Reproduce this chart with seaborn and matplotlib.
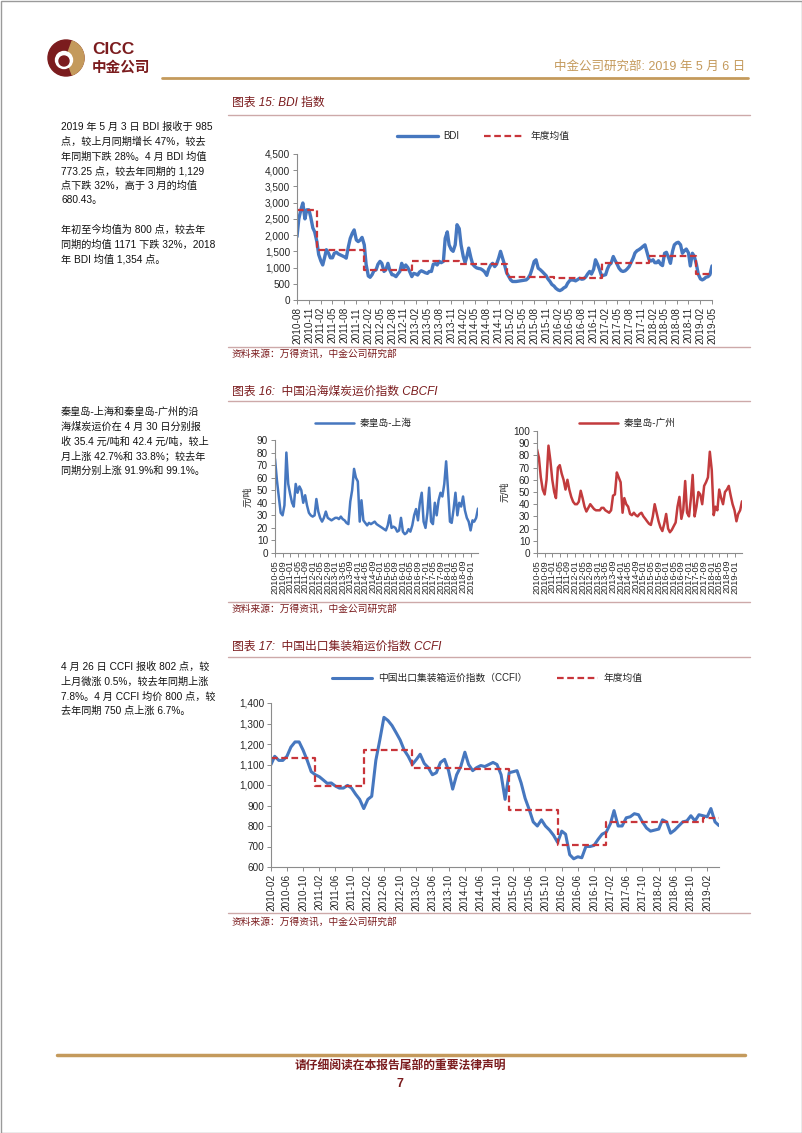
import pandas as pd
import matplotlib
matplotlib.use('Agg')
import matplotlib.pyplot as plt
import matplotlib.dates as mdates
from matplotlib.ticker import FuncFormatter, MultipleLocator
from matplotlib.patches import Circle, Wedge, Rectangle
import seaborn as sns

W, H = 802, 1133

# ---------------- data ----------------
# BDI, semi-monthly readings (1st / 15th), 2010-08-01 .. 2019-05-01
bdi_values = [
    1950, 2500, 2800, 2990, 2500, 2780, 2780, 2550, 2220, 2100,
    1800, 1400, 1200, 1080, 1300, 1550, 1440, 1300, 1300, 1440, 1470, 1420,
    1390, 1360, 1330, 1290, 1650, 1900, 2060, 2160, 1850, 1800, 1850, 1930,
    1700, 1100, 740, 700, 780, 900, 930, 1100, 1190, 1130, 880, 930,
    1130, 930, 780, 770, 720, 800, 880, 1130, 980, 1080, 1000, 880,
    720, 820, 800, 770, 860, 900, 870, 840, 820, 880, 880, 1100,
    1120, 1080, 1190, 1150, 1190, 1900, 2100, 1700, 1550, 1500, 1700, 2320,
    2200, 1700, 1340, 1150, 1340, 1600, 1300, 1100, 1030, 990, 970, 960,
    920, 870, 760, 950, 1080, 1130, 1030, 1100, 1300, 1500, 1290, 1100,
    840, 740, 620, 570, 570, 570, 580, 590, 600, 610, 620, 670,
    780, 950, 1190, 1240, 980, 940, 880, 820, 750, 650, 570, 480,
    430, 360, 310, 290, 320, 370, 410, 520, 600, 620, 610, 590,
    630, 670, 640, 650, 710, 800, 880, 800, 950, 1240, 1100, 950,
    740, 760, 780, 960, 1080, 1130, 1340, 1220, 1100, 980, 900, 880,
    900, 950, 1030, 1150, 1290, 1450, 1520, 1550, 1600, 1650, 1700, 1500,
    1250, 1200, 1240, 1150, 1150, 1210, 1100, 1060, 1440, 1470, 1300, 1130,
    1500, 1700, 1760, 1780, 1700, 1440, 1520, 1570, 1450, 1050, 1440, 1350,
    1100, 800, 650, 620, 650, 700, 720, 780, 1050,
]
bdi_dates = pd.date_range('2010-08-01', '2019-05-01', freq='SMS')
bdi_year_start = ['2010-08-01', '2011-01-01', '2012-01-01', '2013-01-01', '2014-01-01',
                  '2015-01-01', '2016-01-01', '2017-01-01', '2018-01-01', '2019-01-01',
                  '2019-05-01']
bdi_year_avg = [2760, 1550, 925, 1210, 1105, 718, 673, 1150, 1355, 790]
bdi_ticks = pd.date_range('2010-08-01', '2019-05-01', freq='3MS')

# CBCFI coal freight, monthly, 2010-05 .. 2019-05 (元/吨)
coal_dates = pd.date_range('2010-05-01', '2019-05-01', freq='MS')
qhd_shanghai = [
    75, 58, 45, 32, 30, 38, 80, 55,
    47, 40, 37, 55, 48, 53, 50, 40, 46, 38, 32, 30,
    29, 30, 43, 33, 28, 25, 28, 33, 28, 27, 26, 27,
    28, 28, 27, 29, 27, 26, 24, 23, 41, 50, 67, 60,
    57, 25, 42, 26, 24, 22, 24, 23, 24, 25, 23, 22,
    21, 20, 19, 18, 22, 30, 20, 21, 20, 17, 18, 28,
    17, 15, 16, 19, 17, 22, 30, 35, 26, 40, 48, 25,
    20, 32, 52, 25, 23, 40, 30, 42, 48, 45, 55, 73,
    50, 25, 24, 35, 48, 30, 40, 37, 45, 34, 28, 25,
    18, 26, 25, 28, 35.4,
]
qhd_guangzhou = [
    85, 78, 62, 52, 48, 60, 88, 76,
    60, 50, 45, 70, 72, 65, 60, 52, 60, 52, 46, 42,
    40, 40, 42, 51, 45, 38, 34, 37, 40, 38, 36, 35,
    35, 35, 37, 37, 35, 34, 33, 35, 47, 48, 66, 62,
    58, 33, 45, 40, 38, 32, 31, 33, 31, 30, 32, 33,
    30, 28, 26, 24, 23, 30, 40, 33, 26, 21, 18, 24,
    32, 20, 17, 19, 22, 25, 38, 46, 28, 35, 59, 33,
    30, 45, 64, 30, 38, 50, 48, 40, 55, 58, 62, 83,
    68, 31, 38, 35, 52, 45, 40, 50, 52, 55, 47, 40,
    35, 26, 32, 35, 42.4,
]
coal_ticks = pd.date_range('2010-05-01', '2019-01-01', freq='4MS')

# CCFI, monthly, 2010-02 .. 2019-05
ccfi_dates = pd.date_range('2010-02-01', '2019-05-01', freq='MS')
ccfi_values = [
    1100, 1140, 1120, 1120, 1140, 1185, 1210, 1210, 1170, 1120, 1065,
    1050, 1040, 1025, 1008, 1010, 995, 985, 985, 998, 985, 955, 930,
    885, 930, 945, 1120, 1220, 1330, 1315, 1290, 1255, 1220, 1170, 1140,
    1100, 1125, 1150, 1105, 1085, 1050, 1060, 1110, 1125, 1070, 980, 1050,
    1090, 1160, 1100, 1070, 1085, 1095, 1090, 1100, 1110, 1100, 1050, 930,
    1060, 1065, 1070, 1010, 935, 880, 820, 800, 830, 800, 780, 755,
    720, 775, 760, 660, 640, 650, 645, 700, 700, 705, 735, 760,
    770, 810, 875, 800, 800, 840, 845, 860, 855, 820, 790, 775,
    780, 785, 830, 820, 765, 780, 800, 820, 825, 850, 825, 855,
    850, 845, 885, 820, 802,
]
ccfi_year_start = ['2010-02-01', '2011-01-01', '2012-01-01', '2013-01-01', '2014-01-01',
                   '2015-01-01', '2016-01-01', '2017-01-01', '2018-01-01', '2019-01-01',
                   '2019-05-01']
ccfi_year_avg = [1133, 993, 1172, 1083, 1078, 877, 709, 820, 818, 838]
ccfi_ticks = pd.date_range('2010-02-01', '2019-02-01', freq='4MS')

# side notes
note_bdi = [
    '2019 年 5 月 3 日 BDI 报收于 985',
    '点，较上月同期增长 47%，较去',
    '年同期下跌 28%。4 月 BDI 均值',
    '773.25 点，较去年同期的 1,129',
    '点下跌 32%，高于 3 月的均值',
    '680.43。',
]
note_bdi_2 = [
    '年初至今均值为 800 点，较去年',
    '同期的均值 1171 下跌 32%，2018',
    '年 BDI 均值 1,354 点。',
]
note_coal = [
    '秦皇岛-上海和秦皇岛-广州的沿',
    '海煤炭运价在 4 月 30 日分别报',
    '收 35.4 元/吨和 42.4 元/吨，较上',
    '月上涨 42.7%和 33.8%；较去年',
    '同期分别上涨 91.9%和 99.1%。',
]
note_ccfi = [
    '4 月 26 日 CCFI 报收 802 点，较',
    '上月微涨 0.5%，较去年同期上涨',
    '7.8%。4 月 CCFI 均价 800 点，较',
    '去年同期 750 点上涨 6.7%。',
]

# ---------------- style ----------------
sns.set_theme(style='white')
plt.rcParams['font.family'] = ['Liberation Sans', 'Noto Sans CJK SC', 'DejaVu Sans']
plt.rcParams['axes.unicode_minus'] = False

BLUE = '#4677BF'
RED_DASH = '#C8353A'
RED_LINE = '#C23B3D'
MAROON = '#7B1C1E'
GOLD = '#C49A5C'
RULE = '#CDA9A9'
AXIS_GREY = '#8C8C8C'
SOURCE = '资料来源：万得资讯，中金公司研究部'

fig = plt.figure(figsize=(W / 100, H / 100), dpi=100)
bg = fig.add_axes([0, 0, 1, 1])
bg.set_xlim(0, W)
bg.set_ylim(H, 0)
bg.set_axis_off()


def rect(left, top, right, bottom):
    return [left / W, 1 - bottom / H, (right - left) / W, (bottom - top) / H]


def style_axes(ax, labelsize=7.2):
    sns.despine(ax=ax)
    for s in ('left', 'bottom'):
        ax.spines[s].set_color(AXIS_GREY)
        ax.spines[s].set_linewidth(0.8)
    ax.tick_params(axis='both', length=3, width=0.7, color=AXIS_GREY,
                   labelsize=labelsize, pad=2, bottom=True, left=True)
    ax.tick_params(axis='x', labelrotation=90)
    ax.set_xlabel('')
    ax.set_ylabel('')
    ax.grid(False)


def legend_at(ax, x, y, **kw):
    ax.legend(loc='center', bbox_to_anchor=(x / W, 1 - y / H), bbox_transform=fig.transFigure,
              frameon=False, fontsize=7, handletextpad=0.6, **kw)


def section(title, title_y, rule_y, src_rule_y, src_y):
    bg.text(232, title_y, title, color=MAROON, fontsize=8.5, style='italic', va='center')
    bg.plot([228, 750], [rule_y, rule_y], color=RULE, lw=1)
    bg.plot([228, 750], [src_rule_y, src_rule_y], color=RULE, lw=1)
    bg.text(232, src_y, SOURCE, color=MAROON, fontsize=7, style='italic', va='center')


def notes(lines, y0, step=14.7):
    for i, line in enumerate(lines):
        bg.text(61, y0 + i * step, line, fontsize=7.3, color='#111111', va='center')


comma = FuncFormatter(lambda v, p: f'{v:,.0f}')

# ---------------- page furniture ----------------
bg.add_patch(Rectangle((0.5, 0.5), W - 1, H - 1, fill=False, ec='#9A9A9A', lw=1))
bg.add_patch(Circle((66, 58), 18, color=MAROON))
bg.add_patch(Wedge((66, 58), 18, -70, 70, color=GOLD))
bg.add_patch(Circle((64, 60), 8.5, color='white'))
bg.add_patch(Circle((64, 61), 5, color=MAROON))
bg.text(92, 50, 'CICC', fontsize=12.5, fontweight='bold', color=MAROON, va='center')
bg.text(92, 68, '中金公司', fontsize=10.5, fontweight='bold', color=MAROON, va='center')
bg.text(745, 67, '中金公司研究部: 2019 年 5 月 6 日', fontsize=9, color=GOLD,
        ha='right', va='center')
bg.plot([162, 748], [78, 78], color=GOLD, lw=2)

bg.plot([57, 745], [1055, 1055], color=GOLD, lw=2.5)
bg.text(400, 1067, '请仔细阅读在本报告尾部的重要法律声明', fontsize=8.5, color=MAROON,
        fontweight='bold', style='italic', ha='center', va='center')
bg.text(400, 1084, '7', fontsize=9, color=MAROON, fontweight='bold', ha='center', va='center')

notes(note_bdi, 127)
notes(note_bdi_2, 230)
notes(note_coal, 412)
notes(note_ccfi, 667)

# ---------------- 图表 15: BDI ----------------
section('图表 15: BDI 指数', 103, 115, 347, 354)
ax = fig.add_axes(rect(297, 154, 712, 300))
sns.lineplot(x=bdi_dates, y=bdi_values, ax=ax, color=BLUE, lw=2.4, label='BDI')
sns.lineplot(x=pd.to_datetime(bdi_year_start), y=bdi_year_avg + bdi_year_avg[-1:], ax=ax,
             color=RED_DASH, lw=1.6, linestyle=(0, (3, 1.6)), drawstyle='steps-post',
             label='年度均值')
style_axes(ax)
ax.set_ylim(0, 4500)
ax.yaxis.set_major_locator(MultipleLocator(500))
ax.yaxis.set_major_formatter(comma)
ax.set_xlim(bdi_dates[0], bdi_dates[-1])
ax.set_xticks(bdi_ticks)
ax.xaxis.set_major_formatter(mdates.DateFormatter('%Y-%m'))
legend_at(ax, 483, 136, ncol=2, handlelength=4.2, columnspacing=2.5)

# ---------------- 图表 16: CBCFI ----------------
section('图表 16:  中国沿海煤炭运价指数 CBCFI', 392, 401, 602, 609)
for (l, t, r, b), vals, color, name, ymax, lx in [
        ((275, 440, 478, 553), qhd_shanghai, BLUE, '秦皇岛-上海', 90, 363),
        ((537, 431, 742, 553), qhd_guangzhou, RED_LINE, '秦皇岛-广州', 100, 627)]:
    ax = fig.add_axes(rect(l, t, r, b))
    sns.lineplot(x=coal_dates, y=vals, ax=ax, color=color, lw=1.8, label=name)
    style_axes(ax)
    ax.tick_params(axis='x', labelsize=6.6)
    ax.set_ylim(0, ymax)
    ax.yaxis.set_major_locator(MultipleLocator(10))
    ax.set_xlim(coal_dates[0], coal_dates[-1])
    ax.set_xticks(coal_ticks)
    ax.xaxis.set_major_formatter(mdates.DateFormatter('%Y-%m'))
    ax.set_ylabel('元/吨', fontsize=6.5, labelpad=3)
    legend_at(ax, lx, 423, handlelength=4)

# ---------------- 图表 17: CCFI ----------------
section('图表 17:  中国出口集装箱运价指数 CCFI', 647, 657, 913, 922)
ax = fig.add_axes(rect(271, 703, 719, 867))
sns.lineplot(x=ccfi_dates, y=ccfi_values, ax=ax, color=BLUE, lw=2.2,
             label='中国出口集装箱运价指数（CCFI）')
sns.lineplot(x=pd.to_datetime(ccfi_year_start), y=ccfi_year_avg + ccfi_year_avg[-1:], ax=ax,
             color=RED_DASH, lw=1.6, linestyle=(0, (3, 1.6)), drawstyle='steps-post',
             label='年度均值')
style_axes(ax)
ax.set_ylim(600, 1400)
ax.yaxis.set_major_locator(MultipleLocator(100))
ax.yaxis.set_major_formatter(comma)
ax.set_xlim(ccfi_dates[0], ccfi_dates[-1])
ax.set_xticks(ccfi_ticks)
ax.xaxis.set_major_formatter(mdates.DateFormatter('%Y-%m'))
legend_at(ax, 487, 678, ncol=2, handlelength=4.2, columnspacing=3)

fig.savefig('out.png', dpi=100)
